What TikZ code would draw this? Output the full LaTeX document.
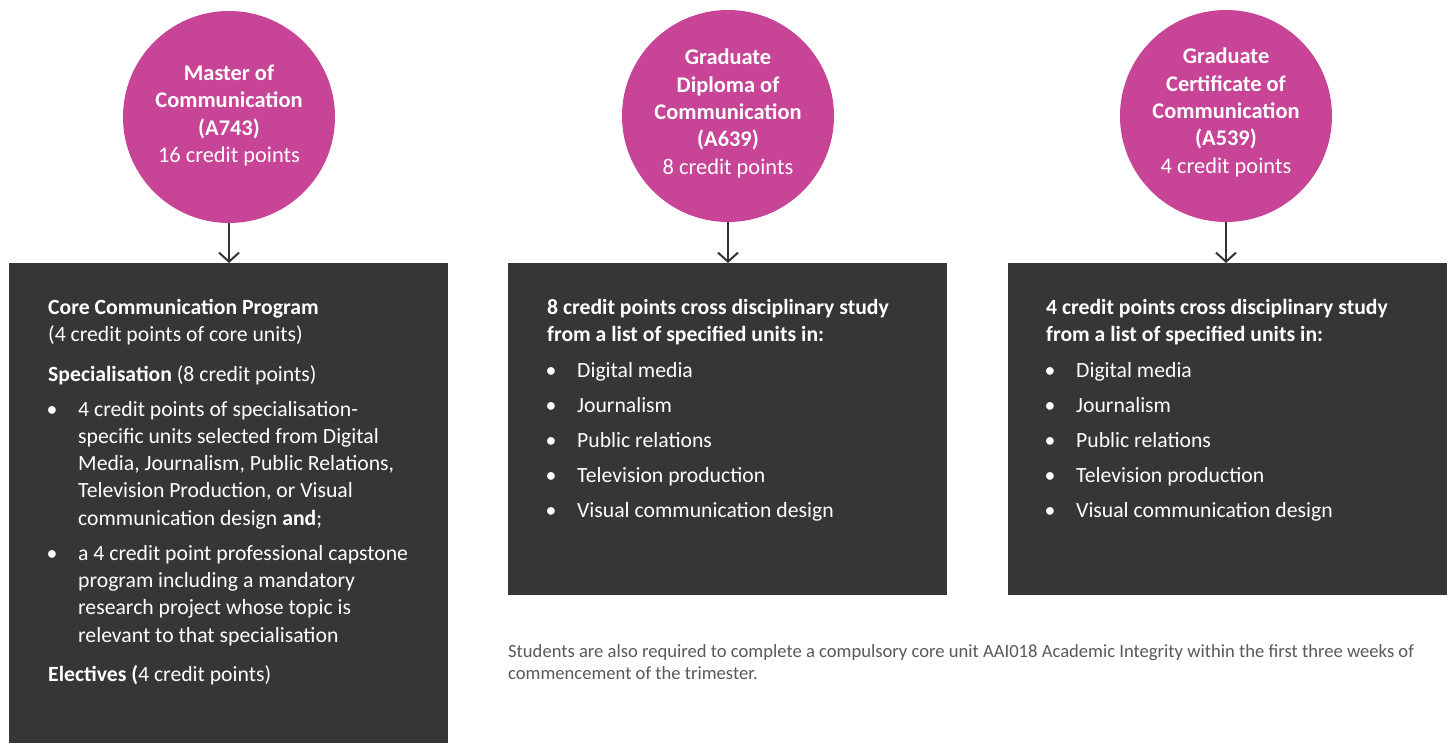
\documentclass[tikz,border=0pt]{standalone}
\usepackage{fontspec}
\setmainfont{Carlito}
\usetikzlibrary{arrows.meta}
\definecolor{mag}{RGB}{199,68,151}
\definecolor{boxc}{RGB}{54,54,54}
\definecolor{arrc}{RGB}{51,51,51}
\definecolor{notec}{RGB}{89,89,89}
\newcommand\bul[1]{\hangindent=30pt\hangafter=1\noindent\makebox[30pt][l]{\hspace{-1.5pt}•}#1\par}
\begin{document}
\begin{tikzpicture}[x=1pt,y=-1pt,
  circ/.style={circle,fill=mag,minimum size=212pt,inner sep=0pt},
  ctext/.style={anchor=base,inner sep=0pt,text=white,font=\fontsize{22.4}{27.3}\selectfont},
  panel/.style={rectangle,fill=boxc,anchor=north west,inner sep=0pt,minimum width=439pt},
  ptext/.style={anchor=base west,inner sep=0pt,text=white,font=\fontsize{21.7}{27.3}\selectfont},
  arr/.style={draw=arrc,line width=2pt,-{Straight Barb[length=9pt,width=20pt,line width=2pt]}},
  note/.style={anchor=base west,inner sep=0pt,text=notec,font=\fontsize{18.6}{22}\selectfont}]
\useasboundingbox (0,0) rectangle (1454,743);
\fill[white] (0,0) rectangle (1454,743);

% circles
\node[circ] (c1) at (229,117) {};
\node[circ] (c2) at (728,116) {};
\node[circ] (c3) at (1226,116) {};

\node[ctext] (ct1) at (229,80.5) {\parbox[t]{205pt}{\centering\bfseries Master of\\Communication\\(A743)\\\mdseries 16 credit points}};
\node[ctext] (ct2) at (728,65) {\parbox[t]{205pt}{\centering\bfseries Graduate\\Diploma of\\Communication\\(A639)\\\mdseries 8 credit points}};
\node[ctext] (ct3) at (1226,64) {\parbox[t]{205pt}{\centering\bfseries Graduate\\Certificate of\\Communication\\(A539)\\\mdseries 4 credit points}};

% panels
\node[panel,minimum height=480pt] (b1) at (9,263) {};
\node[panel,minimum height=332pt] (b2) at (508,263) {};
\node[panel,minimum height=332pt] (b3) at (1008,263) {};

% arrows
\draw[arr] (c1.south) -- (c1.south |- b1.north);
\draw[arr] (c2.south) -- (c2.south |- b2.north);
\draw[arr] (c3.south) -- (c3.south |- b3.north);

% panel texts
\node[ptext] (p1) at (48,314.5) {\parbox[t]{400pt}{\parindent=0pt\parskip=0pt
\textbf{Core Communication Program}\\
(4 credit points of core units)\par\vspace{12pt}
\textbf{Specialisation} (8 credit points)\par\vspace{7.7pt}
\bul{4 credit points of specialisation-\\specific units selected from Digital\\Media, Journalism, Public Relations,\\Television Production, or Visual\\communication design \textbf{and};}\vspace{7.7pt}
\bul{a 4 credit point professional capstone\\program including a mandatory\\research project whose topic is\\relevant to that specialisation}\vspace{12pt}
\textbf{Electives (}4 credit points)}};

\node[ptext] (p2) at (547,314.5) {\parbox[t]{400pt}{\parindent=0pt\parskip=0pt
\textbf{8 credit points cross disciplinary study\\from a list of specified units in:}\par\vspace{8.2pt}
\bul{Digital media}\vspace{7.7pt}
\bul{Journalism}\vspace{7.7pt}
\bul{Public relations}\vspace{7.7pt}
\bul{Television production}\vspace{7.7pt}
\bul{Visual communication design}}};

\node[ptext] (p3) at (1046,314.5) {\parbox[t]{400pt}{\parindent=0pt\parskip=0pt
\textbf{4 credit points cross disciplinary study\\from a list of specified units in:}\par\vspace{8.2pt}
\bul{Digital media}\vspace{7.7pt}
\bul{Journalism}\vspace{7.7pt}
\bul{Public relations}\vspace{7.7pt}
\bul{Television production}\vspace{7.7pt}
\bul{Visual communication design}}};

\node[note] (n1) at (508,657) {\parbox[t]{940pt}{\parindent=0pt Students are also required to complete a compulsory core unit AAI018 Academic Integrity within the first three weeks of\\commencement of the trimester.}};
\end{tikzpicture}
\end{document}
